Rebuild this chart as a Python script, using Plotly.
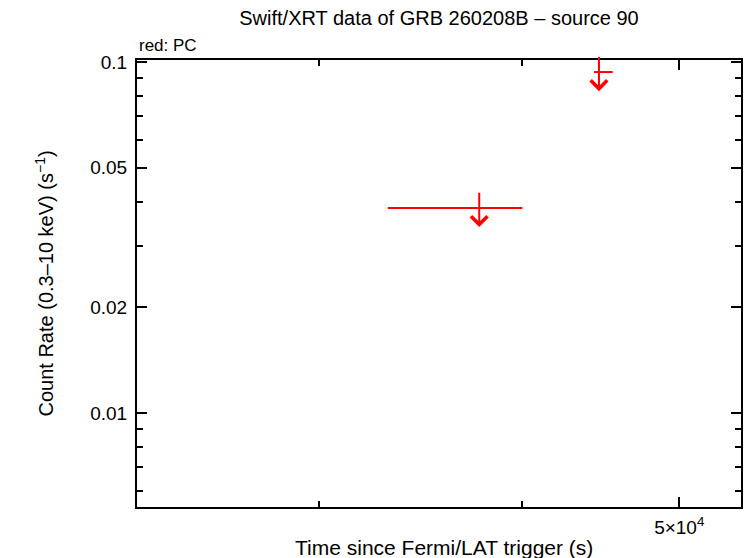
import math
import plotly.graph_objects as go

# PC mode upper limits
t_mid = [37650, 44620]
t_start = [33070, 44300]
t_stop = [40030, 45500]
rate_ul = [0.0384, 0.0936]

x_major = [5e4]
x_major_text = ['5×10<sup>4</sup>']
x_minor = [3e4, 4e4]
y_major = [0.01, 0.02, 0.05, 0.1]
y_major_text = ['0.01', '0.02', '0.05', '0.1']
y_minor = [0.006, 0.007, 0.008, 0.009, 0.03, 0.04, 0.06, 0.07, 0.08, 0.09]

RED = '#ff0000'
FONT = 'Liberation Sans, Arial, sans-serif'
ARROW_UP = 1.115
ARROW_DOWN = 0.882

fig = go.Figure()
fig.add_trace(go.Scatter(
    x=t_mid, y=rate_ul,
    mode='markers',
    marker=dict(size=1, color=RED, opacity=0),
    error_x=dict(
        type='data', symmetric=False,
        array=[b - a for a, b in zip(t_mid, t_stop)],
        arrayminus=[a - b for a, b in zip(t_mid, t_start)],
        color=RED, thickness=2, width=0,
    ),
    showlegend=False,
    hoverinfo='skip',
))

annotations = []
for t, r in zip(t_mid, rate_ul):
    annotations.append(dict(
        x=math.log10(t), y=math.log10(r * ARROW_DOWN),
        ax=math.log10(t), ay=math.log10(r * ARROW_UP),
        xref='x', yref='y', axref='x', ayref='y',
        text='', showarrow=True,
        arrowhead=4, arrowsize=1.6, arrowwidth=2, arrowcolor=RED,
        standoff=0, startstandoff=0,
    ))

annotations += [
    dict(text='red: PC', x=0, y=1, xref='paper', yref='paper',
         xanchor='left', yanchor='bottom', yshift=3, showarrow=False,
         font=dict(size=17, color='black', family=FONT)),
    dict(text='Time since Fermi/LAT trigger (s)', x=0.5, y=0, xref='paper', yref='paper',
         xanchor='center', yanchor='middle', xshift=5, yshift=-40, showarrow=False,
         font=dict(size=21, color='black', family=FONT)),
    dict(text='Count Rate (0.3–10 keV) (s<sup>−1</sup>)', x=0, y=0.5, xref='paper', yref='paper',
         xanchor='center', yanchor='middle', xshift=-93, textangle=-90, showarrow=False,
         font=dict(size=20, color='black', family=FONT)),
]

axis_common = dict(
    type='log',
    showline=True, linecolor='black', linewidth=2, mirror='ticks',
    ticks='inside', ticklen=10, tickwidth=2, tickcolor='black',
    showgrid=False, zeroline=False,
    tickfont=dict(size=19, color='black', family=FONT),
)

fig.update_layout(
    width=746, height=558,
    paper_bgcolor='white', plot_bgcolor='white',
    margin=dict(l=137, r=3, t=60, b=51),
    font=dict(family=FONT, color='black', size=19),
    title=dict(
        text='Swift/XRT data of GRB 260208B – source 90',
        x=0.5, xanchor='center', xref='paper',
        y=1 - 18 / 558, yref='container', yanchor='middle',
        font=dict(size=20, color='black', family=FONT),
    ),
    xaxis=dict(
        **axis_common,
        range=[math.log10(23170), math.log10(54580)],
        tickmode='array', tickvals=x_major, ticktext=x_major_text,
        ticklabelstandoff=2,
        minor=dict(tickmode='array', tickvals=x_minor, ticks='inside',
                   ticklen=6, tickwidth=2, tickcolor='black', showgrid=False),
    ),
    yaxis=dict(
        **axis_common,
        range=[math.log10(0.0054), math.log10(0.1013)],
        tickmode='array', tickvals=y_major, ticktext=y_major_text,
        ticklabelstandoff=4,
        minor=dict(tickmode='array', tickvals=y_minor, ticks='inside',
                   ticklen=6, tickwidth=2, tickcolor='black', showgrid=False),
    ),
    annotations=annotations,
)

fig.write_html('out.html', config={'displayModeBar': False},
               post_script="document.body.style.margin='0px';")
